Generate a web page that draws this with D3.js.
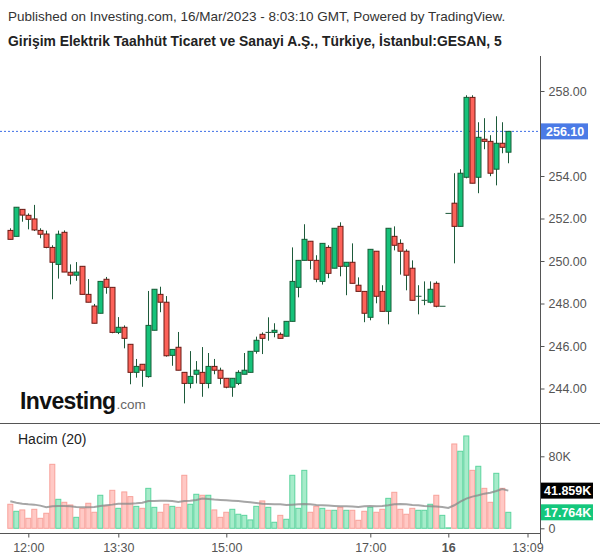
<!DOCTYPE html>
<html><head><meta charset="utf-8">
<script src="https://cdn.jsdelivr.net/npm/d3@7/dist/d3.min.js"></script>
<style>body{margin:0;background:#fff;} svg{display:block;font-family:"Liberation Sans",Arial,sans-serif;}</style>
</head><body>
<script>
const open = [251.44,251.16,252.43,252.15,251.98,251.44,251.27,250.64,249.84,251.35,
249.47,249.33,249.75,248.43,247.88,247.54,249.14,248.76,246.64,246.88,
246.08,244.76,245.14,244.56,246.74,248.43,248.06,245.56,245.94,244.76,
244.24,244.67,244.76,244.24,245.04,244.86,244.48,244.06,244.24,244.67,
244.76,245.75,246.55,246.64,246.64,246.55,246.46,247.16,248.76,250.03,
250.93,250.03,249.04,250.64,249.66,251.63,249.75,249.94,248.86,248.57,
247.35,250.46,248.57,247.63,251.16,250.83,250.46,249.66,248.34,248.15,
248.06,248.95,247.87,252.24,252.72,251.63,253.94,257.70,253.94,255.73,
255.63,254.32,255.54,255.12];
const high = [251.54,252.53,252.43,252.24,252.64,251.54,251.43,250.74,251.43,251.44,
249.84,249.95,249.75,249.15,247.98,249.04,249.25,248.76,247.36,246.97,
246.08,245.39,245.14,248.59,248.67,248.79,248.35,245.84,246.66,244.76,
245.76,245.29,245.95,245.67,245.39,244.98,244.48,244.48,244.86,245.67,
245.75,246.44,246.64,247.35,247.07,246.64,247.16,250.64,250.03,251.73,
250.93,250.27,250.83,250.74,251.54,251.82,249.94,250.83,249.23,248.57,
250.55,250.46,248.86,251.54,251.63,251.02,250.55,250.03,248.86,249.04,
249.04,249.04,247.87,252.24,254.13,254.32,257.80,257.80,256.53,256.72,
255.92,256.81,256.53,256.10];
const low = [251.02,251.16,251.85,251.49,251.41,251.07,250.60,248.20,249.17,249.48,
248.90,249.07,248.43,248.06,247.07,247.54,248.46,246.60,246.56,245.89,
244.20,244.51,244.08,244.51,246.74,247.59,245.50,245.07,244.86,243.30,
244.01,244.24,243.61,244.01,244.67,244.20,244.01,243.61,244.16,244.67,
244.76,245.64,245.62,246.25,246.41,246.36,246.46,247.16,248.29,250.03,
249.61,249.00,248.89,249.19,249.66,249.28,248.39,248.95,248.57,247.12,
247.21,248.01,247.63,247.02,250.50,249.36,248.62,248.15,247.49,247.92,
248.01,247.82,247.87,252.24,249.89,251.63,253.89,253.66,253.19,255.26,
253.99,253.56,255.07,254.60];
const close = [251.02,252.53,252.16,251.96,251.46,251.26,250.64,249.94,251.26,249.48,
249.33,249.48,248.43,248.06,247.07,249.04,248.76,246.64,246.88,246.36,
244.76,245.04,244.86,246.97,248.67,248.06,245.54,245.84,244.86,244.24,
244.57,244.86,244.24,245.04,244.86,244.48,244.06,244.48,244.76,244.86,
245.75,246.27,246.36,246.64,246.74,246.36,247.16,249.04,250.03,251.02,
250.03,249.14,250.83,249.42,251.54,249.75,249.94,248.95,248.57,247.54,
250.55,248.34,247.63,251.54,250.74,250.46,249.33,248.15,248.34,248.15,
248.67,247.87,247.87,252.24,251.63,254.13,257.70,253.66,255.82,255.63,
254.13,255.54,255.35,256.10];
// volume in thousands
const volume = [26.7,18.9,20.4,11.1,21.1,11.1,16.7,71.1,32.2,28.9,
25.9,12.2,22.2,27.8,17.8,36.7,24.8,42.2,22.2,40.4,
35.2,24.4,22.2,44.4,23.3,17.8,26.7,24.4,23.3,58.9,
26.7,37.8,36.7,36.7,20.4,12.2,17.8,21.1,15.6,14.4,
9.3,24.4,30.4,23.3,6.7,14.4,10.0,58.9,22.2,64.4,
17.8,24.4,22.2,20.0,20.0,23.3,20.0,20.0,8.9,18.9,
23.3,17.8,21.1,33.3,40.0,21.1,15.6,22.2,20.0,20.0,
26.7,36.7,14.4,0.5,93.7,85.6,102.6,64.4,68.9,44.4,
28.9,61.1,44.4,17.764];
const volMA = [30.0,28.5,27.4,26.7,26.3,25.2,23.3,24.4,24.8,24.8,
24.4,23.7,23.3,23.3,23.7,24.8,25.6,26.3,27.4,27.4,
27.4,27.8,28.5,30.4,30.4,30.7,30.7,30.4,29.3,30.4,
30.7,31.5,33.0,32.6,31.9,31.5,31.1,30.7,30.4,29.6,
28.9,28.1,27.4,27.0,26.7,26.7,25.9,26.3,26.7,27.0,
26.7,25.9,25.6,25.2,24.8,24.4,24.4,24.1,23.7,24.4,
24.8,24.4,24.8,25.6,26.7,27.0,26.7,25.9,25.6,24.8,
24.4,24.1,23.7,22.6,25.6,29.6,33.0,35.2,36.7,38.5,
39.6,41.5,43.7,41.859];
const priceTicks = [244,246,248,250,252,254,258]; // 256.00 hidden behind last-price tag
const volTicks = [0,80];
const timeTickIndex = [3,18,36,60,73,86.2];
const timeTickLabels = ["12:00","13:30","15:00","17:00","16","13:09"];
const lastPrice = 256.10;
const lastVolLabel = "17.764K";
const maLabel = "41.859K";
const maLast = 41.859;
const titleLine1 = "Published on Investing.com, 16/Mar/2023 - 8:03:10 GMT, Powered by TradingView.";
const titleLine2 = "Girişim Elektrik Taahhüt Ticaret ve Sanayi A.Ş., Türkiye, İstanbul:GESAN, 5";

const W = 600, H = 558;
const plotRight = 540;
const svg = d3.select("body").append("svg").attr("width", W).attr("height", H);

const x = d3.scaleLinear().domain([0, 83]).range([10.3, 508.3]);
const y = d3.scaleLinear().domain([244, 258]).range([388.5, 91]);
const yv = d3.scaleLinear().domain([0, 80]).range([528.3, 456.3]);

// titles
svg.append("text").attr("x", 8).attr("y", 21).attr("font-size", 13.5).attr("fill", "#333").text(titleLine1);
svg.append("text").attr("x", 8).attr("y", 46).attr("font-size", 13.9).attr("font-weight", "bold").attr("fill", "#222").text(titleLine2);

// frame lines
const axisCol = "#555";
svg.append("line").attr("x1", plotRight + 0.5).attr("x2", plotRight + 0.5).attr("y1", 56).attr("y2", 543).attr("stroke", axisCol);
svg.append("line").attr("x1", 0).attr("x2", W).attr("y1", 423.5).attr("y2", 423.5).attr("stroke", axisCol);
svg.append("line").attr("x1", 0).attr("x2", plotRight).attr("y1", 533.5).attr("y2", 533.5).attr("stroke", axisCol);

// price axis
const yAxis = d3.axisRight(y).tickValues(priceTicks).tickSize(4).tickFormat(d3.format(".2f"));
const ya = svg.append("g").attr("transform", `translate(${plotRight + 0.5},0)`).call(yAxis);
ya.select(".domain").remove();
ya.selectAll("line").attr("stroke", axisCol);
ya.selectAll("text").attr("font-size", 12.5).attr("fill", "#555").attr("x", 8).attr("font-family", "Liberation Sans, Arial, sans-serif");

// volume axis
const vAxis = d3.axisRight(yv).tickValues(volTicks).tickSize(4).tickFormat(d => d === 0 ? "0" : d + "K");
const va = svg.append("g").attr("transform", `translate(${plotRight + 0.5},0)`).call(vAxis);
va.select(".domain").remove();
va.selectAll("line").attr("stroke", axisCol);
va.selectAll("text").attr("font-size", 12.5).attr("fill", "#555").attr("x", 8).attr("font-family", "Liberation Sans, Arial, sans-serif");

// time axis
const xAxis = d3.axisBottom(x).tickValues(timeTickIndex).tickSize(4).tickFormat((d, i) => timeTickLabels[i]);
const xa = svg.append("g").attr("transform", "translate(0,533.5)").call(xAxis);
xa.select(".domain").remove();
xa.selectAll("line").attr("stroke", axisCol);
xa.selectAll("text").attr("font-size", 12.5).attr("fill", "#555").attr("dy", "0.9em").attr("font-family", "Liberation Sans, Arial, sans-serif")
  .attr("font-weight", (d, i) => timeTickLabels[i] === "16" ? "bold" : "normal");

// last price dashed line
svg.append("line").attr("x1", 0).attr("x2", plotRight).attr("y1", y(lastPrice)).attr("y2", y(lastPrice))
  .attr("stroke", "#3d6ee6").attr("stroke-dasharray", "2,2");
svg.append("rect").attr("x", plotRight + 1).attr("y", y(lastPrice) - 8).attr("width", 47).attr("height", 16).attr("fill", "#4b7be6");
svg.append("text").attr("x", plotRight + 6).attr("y", y(lastPrice) + 4.5).attr("font-size", 12.5).attr("font-weight", "bold").attr("fill", "#fff").text(lastPrice.toFixed(2));

// logo
const logo = svg.append("text").attr("x", 20).attr("y", 409);
logo.append("tspan").attr("font-size", 23).attr("font-weight", "bold").attr("fill", "#111").attr("letter-spacing", -0.6).text("Investing");
logo.append("tspan").attr("font-size", 13.5).attr("fill", "#666").attr("dx", 1).text(".com");

// volume label
svg.append("text").attr("x", 18).attr("y", 444).attr("font-size", 14).attr("fill", "#222").text("Hacim (20)");

const idx = d3.range(open.length);
const up = i => close[i] >= open[i];

// volume bars
svg.append("g").selectAll("rect").data(idx).join("rect")
  .attr("x", i => x(i) - 2.5).attr("y", i => yv(volume[i]))
  .attr("width", 5).attr("height", i => Math.max(0.5, yv(0) - yv(volume[i])))
  .attr("fill", i => up(i) ? "#a6ecca" : "#ffc9c5")
  .attr("stroke", i => up(i) ? "#5cd49e" : "#f8a29b").attr("stroke-width", 1);

// MA line
svg.append("path").datum(idx)
  .attr("d", d3.line().x(i => x(i)).y(i => yv(volMA[i])))
  .attr("fill", "none").attr("stroke", "#888").attr("stroke-opacity", 0.75).attr("stroke-width", 2);

// volume labels
svg.append("rect").attr("x", plotRight + 1).attr("y", yv(maLast) - 8).attr("width", 52).attr("height", 16).attr("fill", "#000");
svg.append("text").attr("x", plotRight + 4).attr("y", yv(maLast) + 4.5).attr("font-size", 12.5).attr("font-weight", "bold").attr("fill", "#fff").text(maLabel);
svg.append("rect").attr("x", plotRight + 1).attr("y", yv(volume[83]) - 8).attr("width", 52).attr("height", 16).attr("fill", "#14c77c");
svg.append("text").attr("x", plotRight + 4).attr("y", yv(volume[83]) + 4.5).attr("font-size", 12.5).attr("font-weight", "bold").attr("fill", "#fff").text(lastVolLabel);

// candles
const cg = svg.append("g");
cg.selectAll("line").data(idx).join("line")
  .attr("x1", i => Math.round(x(i)) + 0.5).attr("x2", i => Math.round(x(i)) + 0.5)
  .attr("y1", i => y(high[i])).attr("y2", i => y(low[i]))
  .attr("stroke", "#1d5a3a").attr("stroke-width", 1);
cg.selectAll("rect").data(idx).join("rect")
  .attr("x", i => Math.round(x(i)) - 2).attr("width", 5)
  .attr("y", i => y(Math.max(open[i], close[i])))
  .attr("height", i => Math.max(0.01, Math.abs(y(open[i]) - y(close[i]))))
  .attr("fill", i => up(i) ? "#16c27a" : "#fd6259")
  .attr("stroke", i => open[i] === close[i] ? "#1d5a3a" : (up(i) ? "#175c36" : "#6a1a14")).attr("stroke-width", 1);
</script>
</body></html>
